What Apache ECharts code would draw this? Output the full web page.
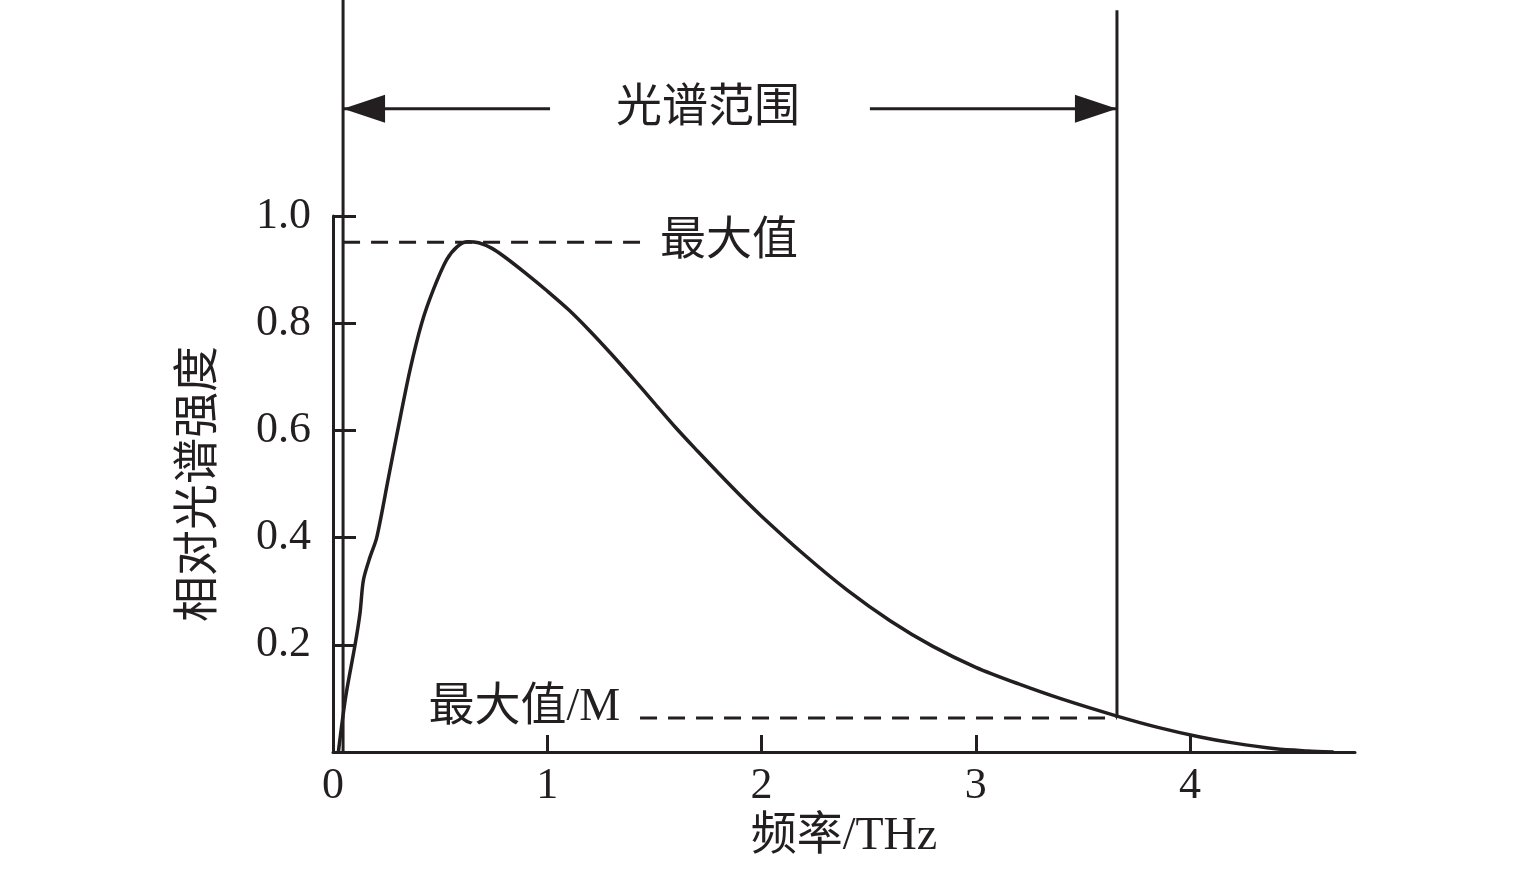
<!DOCTYPE html>
<html>
<head>
<meta charset="utf-8">
<title>相对光谱强度</title>
<script src="https://cdn.jsdelivr.net/npm/echarts@6/dist/echarts.min.js"></script>
<style>
  html, body { margin: 0; padding: 0; background: #fff; }
  #chart { width: 1535px; height: 886px; }
</style>
</head>
<body>
<div id="chart"></div>
<script>
// 曲线数据（频率 THz / 相对光谱强度）
var freq = [0.025, 0.06, 0.103, 0.126, 0.142, 0.173, 0.204, 0.258, 0.297, 0.359, 0.414,
  0.468, 0.53, 0.58, 0.63, 0.68, 0.74, 0.8, 0.9, 1.0, 1.1, 1.2, 1.3, 1.4, 1.5, 1.6, 1.7,
  1.8, 1.9, 2.0, 2.2, 2.4, 2.6, 2.8, 3.0, 3.2, 3.4, 3.659, 3.85, 4.047, 4.2, 4.4, 4.55, 4.67];
var intensity = [0, 0.105, 0.20, 0.259, 0.321, 0.364, 0.40, 0.51, 0.59, 0.712, 0.80,
  0.862, 0.918, 0.943, 0.952, 0.950, 0.940, 0.924, 0.893, 0.86, 0.825, 0.785, 0.742, 0.697,
  0.651, 0.605, 0.562, 0.52, 0.479, 0.44, 0.368, 0.302, 0.245, 0.197, 0.158, 0.127, 0.099,
  0.067, 0.046, 0.028, 0.017, 0.006, 0.002, 0];

// 刻度
var xTicks = [0, 1, 2, 3, 4];
var yTicks = [0.2, 0.4, 0.6, 0.8, 1.0];

// 标注（数据坐标）
var rangeX = [0.047, 3.659];     // 光谱范围两条竖线
var rangeTop = [1.403, 1.384];   // 竖线顶端
var arrowY = 1.2;
var arrowShaftEnd = [1.013, 2.506];
var titleX = 1.75;
var peakY = 0.951;
var lowY = 0.0634;
var dashSplitX = 1.433;
var peakLabelX = 1.526;
var lowLabelX = 1.34;
var lowLabelY = 0.083;

var ink = "#231f20";
var fontFamily = '"Liberation Serif", "Noto Sans CJK SC", serif';

var myChart = echarts.init(document.getElementById("chart"));

var option = {
  animation: false,
  backgroundColor: "#fff",
  grid: { left: 333, top: 216, right: 180, bottom: 134 },
  xAxis: {
    type: "value",
    min: 0,
    max: 4.77,
    interval: 1,
    name: "频率/THz",
    nameLocation: "middle",
    nameGap: 62,
    nameTextStyle: { color: ink, fontSize: 46, fontFamily: fontFamily },
    axisLine: { show: true, lineStyle: { color: ink, width: 3 } },
    axisTick: { show: true, inside: true, length: 17, customValues: xTicks, lineStyle: { color: ink, width: 3 } },
    axisLabel: {
      customValues: xTicks,
      margin: 12,
      color: ink,
      fontSize: 44,
      fontFamily: fontFamily,
      formatter: function (v) { return String(v); }
    },
    splitLine: { show: false }
  },
  yAxis: {
    type: "value",
    min: 0,
    max: 1,
    interval: 0.2,
    name: "相对光谱强度",
    nameLocation: "middle",
    nameGap: 110,
    nameTextStyle: { color: ink, fontSize: 46, fontFamily: fontFamily },
    axisLine: { show: true, lineStyle: { color: ink, width: 3 } },
    axisTick: { show: true, inside: true, length: 23, customValues: yTicks, lineStyle: { color: ink, width: 3 } },
    axisLabel: {
      customValues: yTicks,
      margin: 22,
      color: ink,
      fontSize: 44,
      fontFamily: fontFamily,
      formatter: function (v) { return v.toFixed(1); }
    },
    splitLine: { show: false }
  },
  series: [
    {
      type: "line",
      smooth: 0.3,
      showSymbol: false,
      lineStyle: { color: ink, width: 3.5 },
      data: freq.map(function (f, i) { return [f, intensity[i]]; })
    }
  ]
};

myChart.setOption(option);

// 标注：用坐标系换算成像素
function px(x, y) {
  return myChart.convertToPixel({ gridIndex: 0 }, [x, y]);
}

function line(a, b, dash) {
  return {
    type: "line",
    shape: { x1: a[0], y1: a[1], x2: b[0], y2: b[1] },
    style: { stroke: ink, lineWidth: 3, lineDash: dash || null }
  };
}

function arrowHead(tip, dir) {
  // dir: -1 指向左, 1 指向右
  var len = 42, half = 14;
  return {
    type: "polygon",
    shape: { points: [tip, [tip[0] - dir * len, tip[1] - half], [tip[0] - dir * len, tip[1] + half]] },
    style: { fill: ink }
  };
}

function label(p, text, align) {
  return {
    type: "text",
    x: p[0],
    y: p[1],
    style: {
      text: text,
      fill: ink,
      fontSize: 46,
      fontFamily: fontFamily,
      align: align,
      verticalAlign: "middle"
    }
  };
}

var leftTop = px(rangeX[0], rangeTop[0]);
var leftBottom = px(rangeX[0], 0);
var rightTop = px(rangeX[1], rangeTop[1]);
var rightBottom = px(rangeX[1], lowY);
var leftTip = px(rangeX[0], arrowY);
var rightTip = px(rangeX[1], arrowY);

var graphics = [
  line(leftTop, leftBottom),
  line(rightTop, rightBottom),
  line(leftTip, px(arrowShaftEnd[0], arrowY)),
  line(px(arrowShaftEnd[1], arrowY), rightTip),
  arrowHead(leftTip, -1),
  arrowHead(rightTip, 1),
  label(px(titleX, arrowY), "光谱范围", "center"),
  line(px(rangeX[0], peakY), px(dashSplitX, peakY), [17, 11]),
  line(px(dashSplitX, lowY), px(rangeX[1], lowY), [17, 11]),
  label(px(peakLabelX, peakY), "最大值", "left"),
  label(px(lowLabelX, lowLabelY), "最大值/M", "right")
];

myChart.setOption({ graphic: graphics });
</script>
</body>
</html>
